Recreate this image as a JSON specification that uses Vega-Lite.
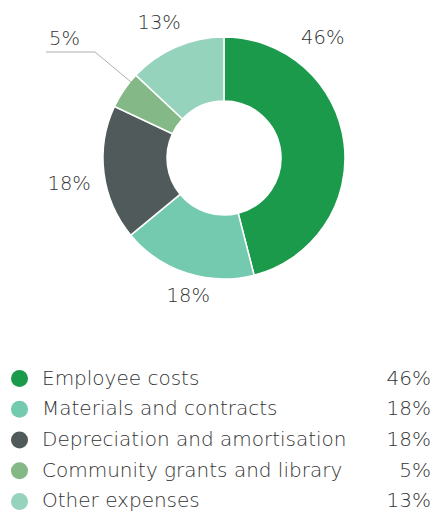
{
  "$schema": "https://vega.github.io/schema/vega-lite/v6.json",
  "padding": {"left": 10, "top": 0, "right": 0, "bottom": 0},
  "spacing": 51,
  "background": "white",
  "config": {"view": {"stroke": null}, "text": {"font": "DejaVu Sans", "fontWeight": 200, "fontSize": 19.5, "color": "#333333"}},
  "data": {"values": [
    {"idx": 1, "name": "Employee costs", "value": 46, "pct": "46%"},
    {"idx": 2, "name": "Materials and contracts", "value": 18, "pct": "18%"},
    {"idx": 3, "name": "Depreciation and amortisation", "value": 18, "pct": "18%"},
    {"idx": 4, "name": "Community grants and library", "value": 5, "pct": "5%"},
    {"idx": 5, "name": "Other expenses", "value": 13, "pct": "13%"}
  ]},
  "resolve": {"scale": {"color": "shared"}},
  "vconcat": [
    {
      "width": 422,
      "height": 316,
      "layer": [
        {
          "mark": {"type": "arc", "outerRadius": 121, "innerRadius": 57, "stroke": "white", "strokeWidth": 1.5, "xOffset": 2},
          "encoding": {
            "theta": {"field": "value", "type": "quantitative", "stack": true},
            "order": {"field": "idx", "type": "quantitative"},
            "color": {"field": "name", "type": "nominal", "legend": null,
              "scale": {"domain": ["Employee costs", "Materials and contracts", "Depreciation and amortisation", "Community grants and library", "Other expenses"],
                        "range": ["#1c9a4c", "#73caae", "#505a5b", "#84b886", "#96d3bd"]}}
          }
        },
        {
          "mark": {"type": "text", "radius": 155, "dx": -53, "dy": -101, "clip": true},
          "encoding": {
            "theta": {"field": "value", "type": "quantitative", "stack": true},
            "order": {"field": "idx", "type": "quantitative"},
            "text": {"condition": {"test": "datum.idx == 1", "field": "pct"}, "value": ""}
          }
        },
        {
          "mark": {"type": "text", "radius": 148, "dx": 12, "dy": -3, "clip": true},
          "encoding": {
            "theta": {"field": "value", "type": "quantitative", "stack": true},
            "order": {"field": "idx", "type": "quantitative"},
            "text": {"condition": {"test": "datum.idx == 2", "field": "pct"}, "value": ""}
          }
        },
        {
          "mark": {"type": "text", "radius": 155, "dx": 1, "dy": 7, "clip": true},
          "encoding": {
            "theta": {"field": "value", "type": "quantitative", "stack": true},
            "order": {"field": "idx", "type": "quantitative"},
            "text": {"condition": {"test": "datum.idx == 3", "field": "pct"}, "value": ""}
          }
        },
        {
          "mark": {"type": "text", "radius": 148, "dx": -35, "dy": -36, "clip": true},
          "encoding": {
            "theta": {"field": "value", "type": "quantitative", "stack": true},
            "order": {"field": "idx", "type": "quantitative"},
            "text": {"condition": {"test": "datum.idx == 4", "field": "pct"}, "value": ""}
          }
        },
        {
          "mark": {"type": "text", "radius": 148, "dx": -4, "dy": 1, "clip": true},
          "encoding": {
            "theta": {"field": "value", "type": "quantitative", "stack": true},
            "order": {"field": "idx", "type": "quantitative"},
            "text": {"condition": {"test": "datum.idx == 5", "field": "pct"}, "value": ""}
          }
        },
        {
          "data": {"values": [{"seg": "h"}]},
          "mark": {"type": "rule", "color": "#9a9a9a", "strokeWidth": 0.8},
          "encoding": {"x": {"value": 35}, "x2": {"value": 84}, "y": {"value": 52}, "y2": {"value": 52}}
        },
        {
          "data": {"values": [{"seg": "d"}]},
          "mark": {"type": "rule", "color": "#9a9a9a", "strokeWidth": 0.8},
          "encoding": {"x": {"value": 84}, "x2": {"value": 120}, "y": {"value": 52}, "y2": {"value": 82}}
        }
      ]
    },
    {
      "width": 422,
      "height": 146,
      "encoding": {
        "y": {"field": "name", "type": "nominal", "axis": null,
              "sort": {"field": "idx"},
              "scale": {"type": "point", "padding": 0.374}}
      },
      "layer": [
        {
          "mark": {"type": "point", "filled": true, "size": 290, "opacity": 1, "shape": "circle"},
          "encoding": {
            "x": {"value": 8.5},
            "color": {"field": "name", "type": "nominal", "legend": null}
          }
        },
        {
          "mark": {"type": "text", "align": "left", "baseline": "middle", "fontSize": 20},
          "encoding": {"x": {"value": 31}, "text": {"field": "name"}}
        },
        {
          "mark": {"type": "text", "align": "right", "baseline": "middle", "fontSize": 20},
          "encoding": {"x": {"value": 420}, "text": {"field": "pct"}}
        }
      ]
    }
  ]
}
